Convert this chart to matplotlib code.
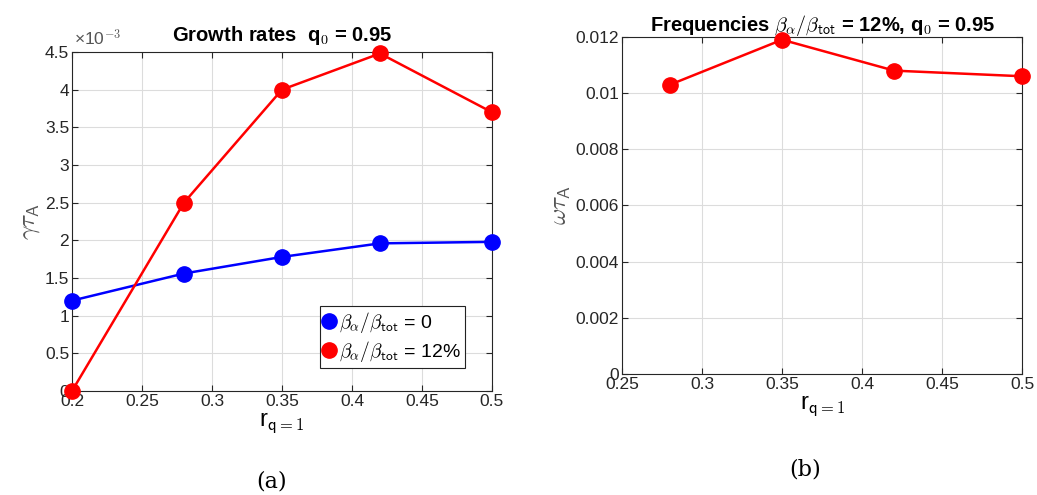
import numpy as np
import matplotlib
matplotlib.use("Agg")
import matplotlib.pyplot as plt
from matplotlib.ticker import FuncFormatter

plt.rcParams['font.family'] = ['Liberation Sans', 'DejaVu Sans']
plt.rcParams['mathtext.fontset'] = 'cm'

# ── Data ──────────────────────────────────────────────────────────────────────
r_growth      = [0.2, 0.28, 0.35, 0.42, 0.5]
gamma_beta0   = [1.20e-3, 1.56e-3, 1.78e-3, 1.96e-3, 1.98e-3]
gamma_beta12  = [0.0, 2.50e-3, 4.00e-3, 4.48e-3, 3.70e-3]

r_freq        = [0.28, 0.35, 0.42, 0.5]
omega_beta12  = [0.0103, 0.0119, 0.0108, 0.0106]

gtick   = '#262626'
gridcol = '#dcdcdc'
tsize   = 12.5

fig = plt.figure(figsize=(10.37, 4.95), dpi=100)
ax1 = fig.add_axes([0.0694, 0.210, 0.405, 0.685])
ax2 = fig.add_axes([0.5998, 0.2444, 0.386, 0.681])

def style(ax):
    ax.grid(True, color=gridcol, lw=0.8)
    ax.set_axisbelow(True)
    ax.tick_params(direction='in', top=True, right=True, labelsize=tsize,
                   colors=gtick, length=4, pad=2)
    for s in ax.spines.values():
        s.set_color(gtick)
        s.set_linewidth(0.8)

# ── (a) growth rates ──────────────────────────────────────────────────────────
ax1.plot(r_growth, gamma_beta0, '-o', color='#0000ff', lw=1.8, ms=11,
         clip_on=False, zorder=3, label=r'$\beta_\alpha/\beta_{\mathsf{tot}}$ = 0')
ax1.plot(r_growth, gamma_beta12, '-o', color='#ff0000', lw=1.8, ms=11,
         clip_on=False, zorder=3, label=r'$\beta_\alpha/\beta_{\mathsf{tot}}$ = 12%')
ax1.set_xlim(0.2, 0.5)
ax1.set_ylim(0, 4.5e-3)
ax1.set_xticks(np.arange(0.2, 0.501, 0.05))
ax1.set_yticks(np.arange(0, 4.51e-3, 0.5e-3))
ax1.xaxis.set_major_formatter(FuncFormatter(lambda v, _: f"{v:g}"))
ax1.yaxis.set_major_formatter(FuncFormatter(lambda v, _: f"{v*1e3:g}"))
style(ax1)
ax1.text(0.005, 1.01, r'×10$^{\mathsf{-3}}$', transform=ax1.transAxes, fontsize=tsize,
         color='#555555', ha='left', va='bottom')
ax1.set_title(r'Growth rates  q$_\mathsf{0}$ = 0.95', fontsize=14.5, fontweight='bold', pad=8)
ax1.set_xlabel(r'r$_{\mathsf{q=1}}$', fontsize=17, labelpad=1)
ax1.set_ylabel(r'$\gamma\tau_\mathsf{A}$', fontsize=18, color='#555555', labelpad=2)
leg = ax1.legend(loc='lower right', bbox_to_anchor=(0.936, 0.068), fontsize=14,
                 handlelength=0.6, handletextpad=0.2, borderpad=0.2,
                 fancybox=False, framealpha=1, edgecolor='#222222',
                 labelspacing=0.2, borderaxespad=0)
leg.get_frame().set_linewidth(0.8)

# ── (b) frequencies ───────────────────────────────────────────────────────────
ax2.plot(r_freq, omega_beta12, '-o', color='#ff0000', lw=1.8, ms=11,
         clip_on=False, zorder=3)
ax2.set_xlim(0.25, 0.5)
ax2.set_ylim(0, 0.012)
ax2.set_xticks(np.arange(0.25, 0.501, 0.05))
ax2.set_yticks(np.arange(0, 0.01201, 0.002))
ax2.xaxis.set_major_formatter(FuncFormatter(lambda v, _: f"{v:g}"))
ax2.yaxis.set_major_formatter(FuncFormatter(lambda v, _: f"{v:g}"))
style(ax2)
ax2.set_title(r'Frequencies $\beta_\alpha/\beta_{\mathsf{tot}}$ = 12%, q$_\mathsf{0}$ = 0.95',
              fontsize=14.5, fontweight='bold', pad=4)
ax2.set_xlabel(r'r$_{\mathsf{q=1}}$', fontsize=17, labelpad=1)
ax2.set_ylabel(r'$\omega\tau_\mathsf{A}$', fontsize=18, color='#555555', labelpad=2)

# ── captions ──────────────────────────────────────────────────────────────────
fig.text(0.262, 0.015, '(a)', fontsize=16, family='DejaVu Serif', ha='center')
fig.text(0.776, 0.04, '(b)', fontsize=16, family='DejaVu Serif', ha='center')

fig.savefig('out.png', dpi=100)
